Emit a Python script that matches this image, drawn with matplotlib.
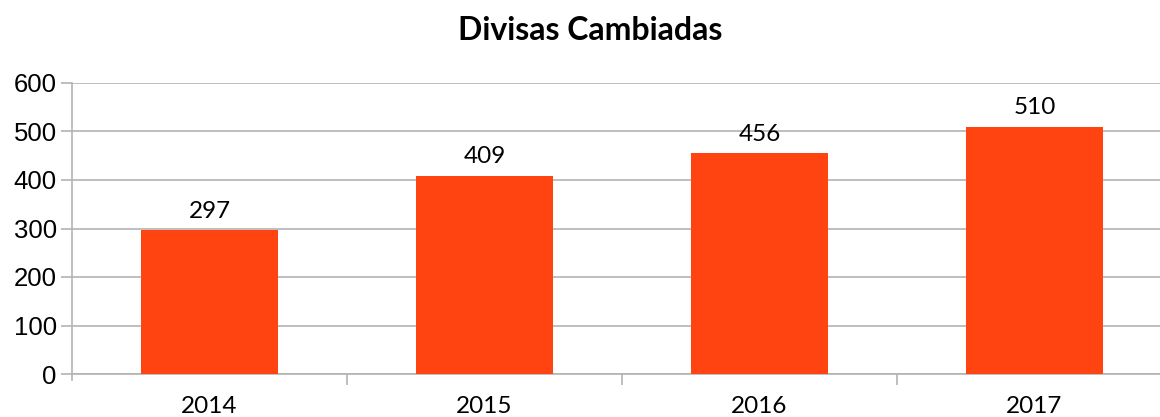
import matplotlib
matplotlib.use("Agg")
import matplotlib.pyplot as plt
import numpy as np

# data
years = ["2014", "2015", "2016", "2017"]
values = [297, 409, 456, 510]

fig = plt.figure(figsize=(11.6, 4.17), dpi=100)
ax = fig.add_axes([72 / 1160, 1 - 374 / 417, 1100 / 1160, 291 / 417])

x = np.arange(len(years))
bars = ax.bar(x, values, width=0.5, color="#ff4411", zorder=3)

for b, v in zip(bars, values):
    ax.annotate(str(v), (b.get_x() + b.get_width() / 2, v), xytext=(0, 6),
                textcoords="offset points", ha="center", va="bottom",
                fontsize=17.5, family="Lato")

ax.set_xlim(-0.5, len(years) - 0.5)
ax.set_ylim(0, 600)
ax.set_yticks(range(0, 601, 100))
ax.yaxis.grid(True, color="#b3b3b3", linewidth=1.2, zorder=0)

ax.set_xticks(x)
ax.set_xticklabels(years, fontsize=17.5, family="Lato")
ax.set_xticks(np.arange(0.5, len(years) - 0.5), minor=True)
ax.tick_params(axis="x", which="major", length=0, pad=16)
ax.tick_params(axis="x", which="minor", length=8, color="#b3b3b3", width=1.2)
ax.tick_params(axis="y", length=8, color="#b3b3b3", width=1.2, labelsize=18.5, pad=3)
for lab in ax.get_yticklabels():
    lab.set_family("Liberation Sans")

for s in ["top", "right"]:
    ax.spines[s].set_visible(False)
ax.spines["left"].set_color("#b3b3b3")
ax.spines["bottom"].set_color("#b3b3b3")
ax.spines["left"].set_linewidth(1.2)
ax.spines["bottom"].set_linewidth(1.2)
ax.spines["left"].set_bounds(-12, 600)

fig.text(590 / 1160, 1 - 30 / 417, "Divisas Cambiadas", ha="center", va="center",
         fontsize=23, fontweight="bold", family="Lato")

fig.savefig("out.png", dpi=100)
